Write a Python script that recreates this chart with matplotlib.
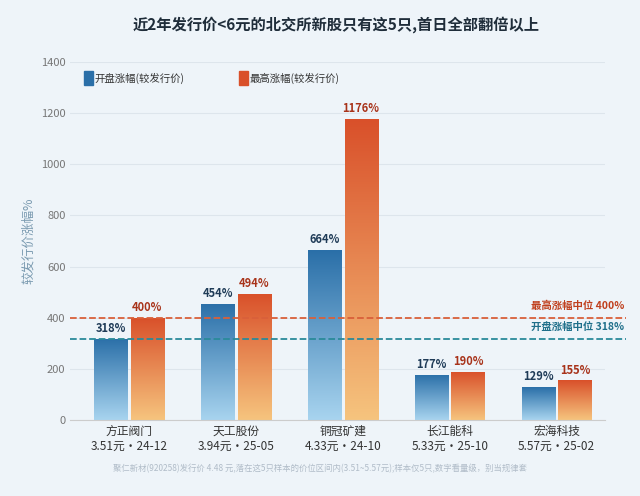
import matplotlib.pyplot as plt
import numpy as np
from matplotlib.colors import LinearSegmentedColormap
from matplotlib.patches import Rectangle

plt.rcParams["font.family"] = ["Noto Sans CJK SC", "DejaVu Sans"]

names = ["方正阀门", "天工股份", "铜冠矿建", "长江能科", "宏海科技"]
subs = ["3.51元·24-12", "3.94元·25-05", "4.33元·24-10", "5.33元·25-10", "5.57元·25-02"]
open_gain = [318, 454, 664, 177, 129]
high_gain = [400, 494, 1176, 190, 155]
open_median = 318
high_median = 400

BG = "#eef4f9"
BLUE_CM = LinearSegmentedColormap.from_list("b", ["#a8d4ef", "#2a6fa8"])
ORG_CM = LinearSegmentedColormap.from_list("o", ["#f6c47e", "#d9502a"])

fig = plt.figure(figsize=(6.4, 4.96), dpi=100, facecolor=BG)
ax = fig.add_axes([0.11, 0.153, 0.835, 0.722], facecolor=BG)

x = np.arange(len(names))
w = 0.31
grad = np.linspace(0, 1, 256).reshape(-1, 1)


def gbar(xc, h, cmap):
    r = Rectangle((xc - w / 2, 0), w, h, facecolor="none", edgecolor="none")
    ax.add_patch(r)
    im = ax.imshow(grad, cmap=cmap, origin="lower", aspect="auto",
                   extent=[xc - w / 2, xc + w / 2, 0, h], zorder=2)
    im.set_clip_path(r)


for i in range(len(names)):
    gbar(x[i] - w / 2 - 0.015, open_gain[i], BLUE_CM)
    gbar(x[i] + w / 2 + 0.015, high_gain[i], ORG_CM)
    ax.text(x[i] - w / 2 - 0.015, open_gain[i] + 15, f"{open_gain[i]}%", ha="center",
            va="bottom", fontsize=8, fontweight="bold", color="#1f3b57")
    ax.text(x[i] + w / 2 + 0.015, high_gain[i] + 15, f"{high_gain[i]}%", ha="center",
            va="bottom", fontsize=8, fontweight="bold", color="#a8331a")

ax.set_xlim(-0.55, 4.45)
ax.set_ylim(0, 1400)
ax.set_yticks(range(0, 1401, 200))
ax.tick_params(axis="y", length=0, labelsize=8, colors="#777777")
ax.tick_params(axis="x", length=0)
ax.set_xticks(x)
ax.set_xticklabels([f"{n}\n{s}" for n, s in zip(names, subs)], fontsize=8.5, color="#333333")
ax.grid(axis="y", color="#dde5ec", linewidth=0.8)
ax.set_axisbelow(True)
for s in ["top", "right", "left"]:
    ax.spines[s].set_visible(False)
ax.spines["bottom"].set_color("#cccccc")
ax.set_ylabel("较发行价涨幅%", fontsize=9, color="#7a9ab0")

ax.plot([-0.55, 4.65], [high_median] * 2, ls="--", color="#d9603a", lw=1.3, clip_on=False, zorder=3)
ax.plot([-0.55, 4.65], [open_median] * 2, ls="--", color="#2a8a9a", lw=1.3, clip_on=False, zorder=3)
ax.text(4.63, high_median + 25, f"最高涨幅中位 {high_median}%", ha="right", va="bottom",
        fontsize=7.5, fontweight="bold", color="#c0401e")
ax.text(4.63, open_median + 25, f"开盘涨幅中位 {open_median}%", ha="right", va="bottom",
        fontsize=7.5, fontweight="bold", color="#1f6f8a")

ax.add_patch(Rectangle((0.025, 0.935), 0.018, 0.04, transform=ax.transAxes, color="#2a6fa8"))
ax.text(0.045, 0.955, "开盘涨幅(较发行价)", transform=ax.transAxes, fontsize=7.5, va="center", color="#333333")
ax.add_patch(Rectangle((0.315, 0.935), 0.018, 0.04, transform=ax.transAxes, color="#d9502a"))
ax.text(0.335, 0.955, "最高涨幅(较发行价)", transform=ax.transAxes, fontsize=7.5, va="center", color="#333333")

fig.text(0.525, 0.94, "近2年发行价<6元的北交所新股只有这5只,首日全部翻倍以上", ha="center",
         fontsize=11, fontweight="bold", color="#1f2d3a")
fig.text(0.5, 0.05, "聚仁新材(920258)发行价 4.48 元,落在这5只样本的价位区间内(3.51~5.57元);样本仅5只,数字看量级，别当规律套",
         ha="center", fontsize=6, color="#b0bcc8")

fig.savefig("out.png", dpi=100, facecolor=BG)
